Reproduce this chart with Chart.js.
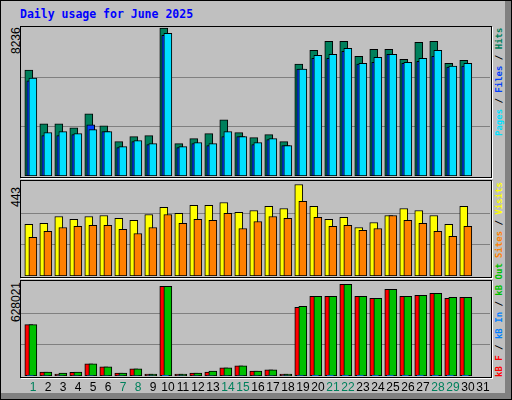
<!DOCTYPE html>
<html>
<head>
<meta charset="utf-8">
<script src="https://cdn.jsdelivr.net/npm/chart.js"></script>
<style>
body{margin:0;background:#fff}
#frame{position:absolute;left:0;top:0;width:510px;height:398px;background:#c0c0c0;border:1px solid #000;box-shadow:inset -6px -6px 0 #808080}
.panel{position:absolute;left:20px;width:470px;border:1px solid #000;box-shadow:1px 1px 0 #fff}
canvas{position:absolute}
.txt{position:absolute;white-space:nowrap;transform-origin:0 0;transform:rotate(-90deg)}
.mono{font-family:"DejaVu Sans Mono",monospace;font-size:9px;font-weight:bold}
.num{font-family:"Liberation Sans",Arial,sans-serif;font-size:12px;color:#000}
#title{position:absolute;left:20px;top:7px;color:#0000ff;font-family:"DejaVu Sans Mono",monospace;font-weight:bold;font-size:11.5px}
</style>
</head>
<body>
<div id="frame"></div>
<div id="title">Daily usage for June 2025</div>
<div class="panel" style="top:26px;height:150px"></div>
<div class="panel" style="top:180px;height:96px"></div>
<div class="panel" style="top:280px;height:96px"></div>

<div class="txt num" style="left:9px;top:54px">8236</div>
<div class="txt num" style="left:9px;top:207px">443</div>
<div class="txt num" style="left:9px;top:322px">628021</div>

<div class="txt mono" style="left:494px;top:136px"><span style="color:#00e0ff">Pages</span> / <span style="color:#0040ff">Files</span> / <span style="color:#00805c">Hits</span></div>
<div class="txt mono" style="left:494px;top:258px"><span style="color:#ff8000">Sites</span> / <span style="color:#ffff00">Visits</span></div>
<div class="txt mono" style="left:494px;top:377px"><span style="color:#ff0000">kB F</span> / <span style="color:#0080ff">kB In</span> / <span style="color:#00c000">kB Out</span></div>

<canvas id="c1" width="469" height="149" style="left:21px;top:27px"></canvas>
<canvas id="c2" width="469" height="95" style="left:21px;top:181px"></canvas>
<canvas id="c3" width="469" height="117" style="left:21px;top:281px"></canvas>

<script>
// values, one per day
let days = [1,2,3,4,5,6,7,8,9,10,11,12,13,14,15,16,17,18,19,20,21,22,23,24,25,26,27,28,29,30]
let weekend = [1,7,8,14,15,21,22,28,29]
let hits  = [5896,2911,2911,2690,3464,2801,1916,2193,2248,8236,1806,2082,2358,3132,2414,2137,2303,1916,6228,7002,7499,7499,6670,7057,7057,6504,7444,7499,6283,6449]
let files = [5306,2248,2248,2303,2856,2469,1585,1916,1750,7831,1585,1806,1695,2193,2193,1750,2027,1695,5951,6559,6559,6946,6228,6338,6780,6283,6394,6670,6062,6117]
let pages = [5454,2414,2469,2358,2580,2469,1640,1971,1806,7941,1640,1861,1806,2469,2193,1861,2082,1695,5951,6725,6780,7112,6283,6615,6780,6338,6559,7002,6117,6283]
let visits = [250,255,288,274,288,293,279,269,298,332,303,342,342,356,308,317,337,327,443,337,274,284,235,259,293,327,317,293,250,337]
let sites  = [187,216,235,240,245,245,226,206,235,298,255,274,269,303,230,264,288,279,361,284,240,245,221,230,293,269,255,216,192,240]
let kbOut = [351900,27600,20700,27600,82800,62100,20700,48300,13800,614100,13800,20700,34500,55200,69000,34500,41400,13800,476100,545100,545100,628021,545100,531300,593400,545100,552000,565800,538200,538200]
let kbF   = [351900,27600,13800,25300,82800,62100,20700,48300,13800,614100,13800,20700,27600,55200,69000,34500,41400,13800,469200,545100,545100,628021,545100,531300,593400,545100,552000,565800,531300,538200]
let kbIn  = [4000,1500,1000,1500,2500,2000,1000,1500,800,5000,800,1000,1500,2000,2000,1500,1500,800,4000,4500,4500,5000,4500,4500,4800,4500,4500,4600,4400,4400]

function pts(arr, shift){ return arr.map((v,i) => ({x: days[i] + shift, y: v})) }

function ds(arr, shift, color){
    return {data: pts(arr, shift), backgroundColor: color, borderColor: '#000', borderWidth: 1, barThickness: 8, grouped: false, borderSkipped: false}
}

// gray grid lines at a third and two thirds of each panel
const grid = {
    id: 'grid',
    beforeDatasetsDraw(chart){
        let a = chart.chartArea, ctx = chart.ctx
        ctx.save()
        ctx.strokeStyle = '#808080'
        ctx.lineWidth = 1
        for (let f of [1/3, 2/3]) {
            let y = Math.round(a.bottom - (a.bottom - a.top) * f) + 0.5
            ctx.beginPath(); ctx.moveTo(a.left, y); ctx.lineTo(a.right, y); ctx.stroke()
        }
        ctx.restore()
    }
}

// day numbers under the bottom panel
const dayLabels = {
    id: 'dayLabels',
    afterDraw(chart){
        let ctx = chart.ctx, x = chart.scales.x
        ctx.save()
        ctx.font = '12px "Liberation Sans", Arial, sans-serif'
        ctx.textAlign = 'center'
        ctx.textBaseline = 'middle'
        for (let d = 1; d <= 31; d++) {
            ctx.fillStyle = weekend.includes(d) ? '#00805c' : '#000'
            ctx.fillText(String(d), x.getPixelForValue(d + 0.28), chart.chartArea.bottom + 12)
        }
        ctx.restore()
    }
}

function makeChart(id, datasets, max, padBottom, plugins){
    return new Chart(document.getElementById(id), {
        type: 'bar',
        data: {datasets: datasets},
        options: {
            responsive: false,
            animation: false,
            layout: {padding: {left: 0, right: 0, top: 0, bottom: padBottom}},
            plugins: {legend: {display: false}, tooltip: {enabled: false}},
            scales: {
                x: {type: 'linear', min: 0.48, max: 31.75, offset: false, display: false},
                y: {min: 0, max: max, display: false}
            }
        },
        plugins: plugins
    })
}

makeChart('c1', [ds(pages, 0.27, '#00e0ff'), ds(files, 0.13, '#0040ff'), ds(hits, 0, '#00805c')], 8300, 0, [grid])
makeChart('c2', [ds(sites, 0.27, '#ff8000'), ds(visits, 0, '#ffff00')], 460, 0, [grid])
makeChart('c3', [ds(kbIn, 0.1, '#0080ff'), ds(kbOut, 0.27, '#00c000'), ds(kbF, 0, '#ff0000')], 650000, 22, [grid, dayLabels])
</script>
</body>
</html>
